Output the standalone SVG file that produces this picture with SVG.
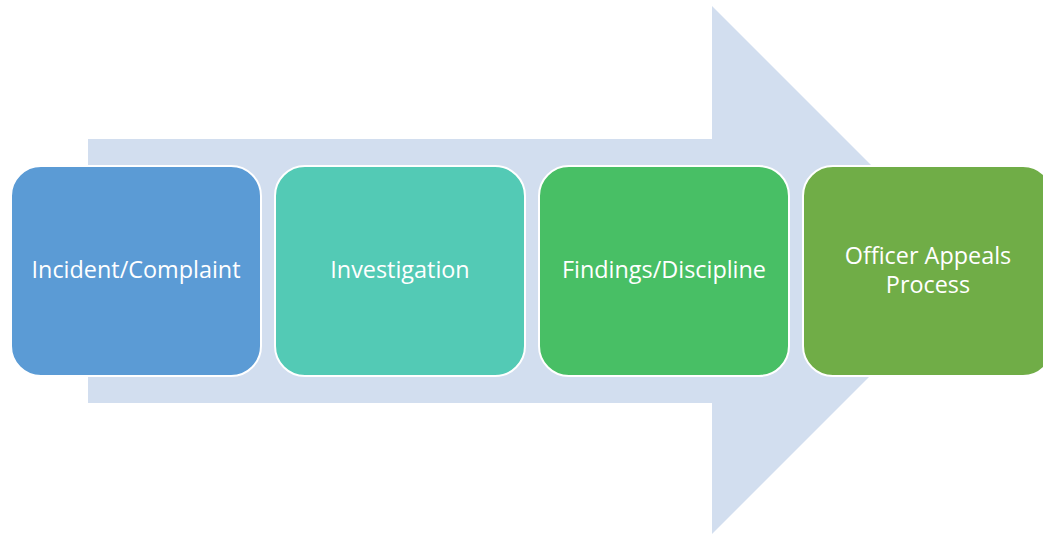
<svg xmlns="http://www.w3.org/2000/svg" width="1043" height="535" viewBox="0 0 1043 535">
  <style>
    .step { stroke: #ffffff; stroke-width: 2; }
    .label { font-family: "Open Sans", "Noto Sans", "Liberation Sans", sans-serif; font-size: 23.4px; fill: #ffffff; text-anchor: middle; }
  </style>
  <rect width="1043" height="535" fill="#ffffff"/>
  <!-- background block arrow -->
  <g id="flow-arrow">
    <polygon points="88,139 712,139 712,6 976,270 712,534 712,403 88,403" fill="#D2DEEF"/>
  </g>
  <g id="step-1">
    <rect class="step" x="11" y="166" width="250" height="210" rx="30" fill="#5B9BD5"/>
    <text class="label" x="136" y="278">Incident/Complaint</text>
  </g>
  <g id="step-2">
    <rect class="step" x="275" y="166" width="250" height="210" rx="30" fill="#53CAB5"/>
    <text class="label" x="400" y="278">Investigation</text>
  </g>
  <g id="step-3">
    <rect class="step" x="539" y="166" width="250" height="210" rx="30" fill="#48BF65"/>
    <text class="label" x="664" y="278">Findings/Discipline</text>
  </g>
  <g id="step-4">
    <rect class="step" x="803" y="166" width="250" height="210" rx="30" fill="#70AD47"/>
    <text class="label" x="928" y="264">Officer Appeals</text>
    <text class="label" x="928" y="293">Process</text>
  </g>
</svg>
